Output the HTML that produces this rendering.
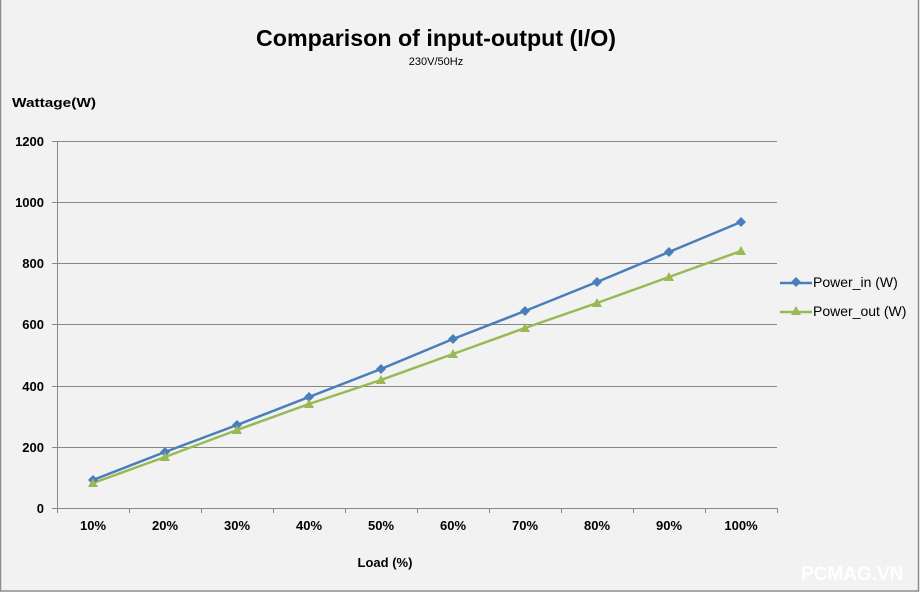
<!DOCTYPE html>
<html><head><meta charset="utf-8"><style>
html,body{margin:0;padding:0;background:#fff;width:923px;height:595px;overflow:hidden}
svg{display:block;font-family:"Liberation Sans",Arial,sans-serif}
</style></head><body>
<svg width="923" height="595" viewBox="0 0 923 595" xmlns="http://www.w3.org/2000/svg">
<rect x="0" y="0" width="923" height="595" fill="#fff"/>
<rect x="0.5" y="-1" width="918" height="592" fill="#f2f2f2" stroke="#8c8c8c" stroke-width="1.5"/>
<text x="436" y="46" text-anchor="middle" font-size="23" font-weight="bold" fill="#000" textLength="360" lengthAdjust="spacingAndGlyphs">Comparison of input-output (I/O)</text>
<text x="436" y="65" text-anchor="middle" font-size="11" fill="#000">230V/50Hz</text>
<text x="12" y="107" font-size="13" font-weight="bold" fill="#000" textLength="84" lengthAdjust="spacingAndGlyphs">Wattage(W)</text>
<text x="385" y="567" text-anchor="middle" font-size="13" font-weight="bold" fill="#000">Load (%)</text>
<g stroke="#868686" stroke-width="1">
<line x1="52" y1="141.5" x2="777" y2="141.5"/>
<line x1="52" y1="202.5" x2="777" y2="202.5"/>
<line x1="52" y1="263.5" x2="777" y2="263.5"/>
<line x1="52" y1="324.5" x2="777" y2="324.5"/>
<line x1="52" y1="386.5" x2="777" y2="386.5"/>
<line x1="52" y1="447.5" x2="777" y2="447.5"/>
<line x1="52" y1="508.5" x2="777" y2="508.5"/>
<line x1="57.5" y1="141" x2="57.5" y2="508"/>
<line x1="57.5" y1="508" x2="57.5" y2="513"/><line x1="129.5" y1="508" x2="129.5" y2="513"/>
<line x1="201.5" y1="508" x2="201.5" y2="513"/><line x1="273.5" y1="508" x2="273.5" y2="513"/>
<line x1="345.5" y1="508" x2="345.5" y2="513"/><line x1="417.5" y1="508" x2="417.5" y2="513"/>
<line x1="489.5" y1="508" x2="489.5" y2="513"/><line x1="561.5" y1="508" x2="561.5" y2="513"/>
<line x1="633.5" y1="508" x2="633.5" y2="513"/><line x1="705.5" y1="508" x2="705.5" y2="513"/>
<line x1="777.5" y1="508" x2="777.5" y2="513"/>
</g>
<g font-size="13" font-weight="bold" fill="#000" text-anchor="end">
<text x="44" y="146">1200</text><text x="44" y="207">1000</text><text x="44" y="268">800</text>
<text x="44" y="329">600</text><text x="44" y="391">400</text><text x="44" y="452">200</text><text x="44" y="513">0</text>
</g>
<g font-size="13" font-weight="bold" fill="#000" text-anchor="middle">
<text x="93" y="530">10%</text><text x="165" y="530">20%</text><text x="237" y="530">30%</text>
<text x="309" y="530">40%</text><text x="381" y="530">50%</text><text x="453" y="530">60%</text>
<text x="525" y="530">70%</text><text x="597" y="530">80%</text><text x="669" y="530">90%</text>
<text x="741" y="530">100%</text>
</g>
<polyline fill="none" stroke="#4a7ebb" stroke-width="2.5" points="93,480 165,452 237,425 309,397 381,369 453,339 525,311 597,282 669,252 741,222"/>
<polyline fill="none" stroke="#98b954" stroke-width="2.5" points="93,483 165,457 237,430 309,404 381,380 453,354 525,328 597,303 669,277 741,251"/>
<g fill="#4a7ebb">
<path d="M93,475l5,5l-5,5l-5,-5z"/><path d="M165,447l5,5l-5,5l-5,-5z"/><path d="M237,420l5,5l-5,5l-5,-5z"/>
<path d="M309,392l5,5l-5,5l-5,-5z"/><path d="M381,364l5,5l-5,5l-5,-5z"/><path d="M453,334l5,5l-5,5l-5,-5z"/>
<path d="M525,306l5,5l-5,5l-5,-5z"/><path d="M597,277l5,5l-5,5l-5,-5z"/><path d="M669,247l5,5l-5,5l-5,-5z"/>
<path d="M741,217l5,5l-5,5l-5,-5z"/>
<path d="M796,277l5,5l-5,5l-5,-5z"/>
</g>
<g fill="#98b954">
<path d="M93,478l5,9h-10z"/><path d="M165,452l5,9h-10z"/><path d="M237,425l5,9h-10z"/>
<path d="M309,399l5,9h-10z"/><path d="M381,375l5,9h-10z"/><path d="M453,349l5,9h-10z"/>
<path d="M525,323l5,9h-10z"/><path d="M597,298l5,9h-10z"/><path d="M669,272l5,9h-10z"/>
<path d="M741,246l5,9h-10z"/>
<path d="M796,306l5,9h-10z"/>
</g>
<line x1="780" y1="283" x2="812" y2="283" stroke="#4a7ebb" stroke-width="2.5"/>
<line x1="780" y1="312" x2="812" y2="312" stroke="#98b954" stroke-width="2.5"/>
<text x="813" y="287" font-size="14" fill="#000">Power_in (W)</text>
<text x="813" y="316" font-size="14" fill="#000">Power_out (W)</text>
<text x="801" y="580" font-size="19" font-weight="bold" fill="#ffffff">PCMAG.VN</text>
</svg>
</body></html>
